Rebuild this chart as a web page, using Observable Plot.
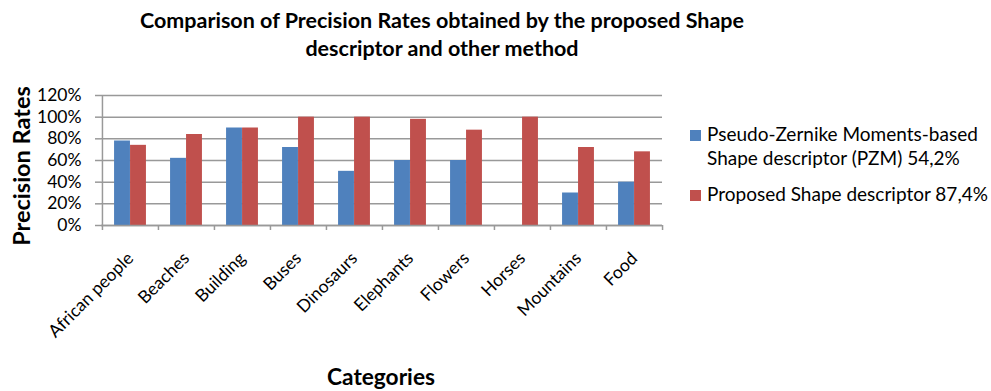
<!DOCTYPE html>
<html>
<head>
<meta charset="utf-8">
<script src="https://cdn.jsdelivr.net/npm/d3@7"></script>
<script src="https://cdn.jsdelivr.net/npm/@observablehq/plot@0.6"></script>
<style>
  html, body { margin: 0; padding: 0; background: #fff; }
  #wrap { position: relative; width: 991px; height: 391px; font-family: Lato, "Open Sans", sans-serif; color: #000; }
  #title { position: absolute; left: 100px; width: 684px; top: 5.5px; text-align: center; font-weight: 700; font-size: 21.5px; line-height: 28px; }
  #ylabel { position: absolute; left: 20.5px; top: 166px; transform: translate(-50%, -50%) rotate(-90deg); font-weight: 700; font-size: 23.5px; white-space: nowrap; }
  #xlabel { position: absolute; left: 381px; top: 375.5px; transform: translate(-50%, -50%); font-weight: 700; font-size: 22.7px; white-space: nowrap; }
  #legend { position: absolute; left: 690px; top: 121.5px; font-size: 19px; line-height: 24px; }
  .item { position: relative; padding-left: 17px; }
  .item + .item { margin-top: 12.5px; }
  .sw { position: absolute; left: 0; top: 8px; width: 11px; height: 11px; }
  #chart { position: absolute; left: 0; top: 0; }
  #chart svg text { font-size: 17.5px; fill: #000; }
</style>
</head>
<body>
<div id="wrap">
  <div id="chart"></div>
  <div id="title"></div>
  <div id="ylabel"></div>
  <div id="xlabel"></div>
  <div id="legend"></div>
</div>
<script>
// Image categories on the x axis
const categories = ["African people", "Beaches", "Building", "Buses", "Dinosaurs", "Elephants", "Flowers", "Horses", "Mountains", "Food"];
// Precision rate per category (%)
const pzmValues = [78, 62, 90, 72, 50, 60, 60, 0, 30, 40];
const proposedValues = [74, 84, 90, 100, 100, 98, 88, 100, 72, 68];
// Series names as shown in the legend
const seriesNames = ["Pseudo-Zernike Moments-based Shape descriptor (PZM) 54,2%", "Proposed Shape descriptor 87,4%"];
const seriesColors = ["#4F81BD", "#C0504D"];
// Y axis ticks (%)
const yTicks = [0, 20, 40, 60, 80, 100, 120];

const titleText = "Comparison of Precision Rates obtained by the proposed Shape descriptor and other method";
const yLabelText = "Precision Rates";
const xLabelText = "Categories";

const width = 991, height = 391;
const marginLeft = 101, marginRight = 329, marginTop = 95, marginBottom = 166;
const band = (width - marginLeft - marginRight) / categories.length;
const barW = band * 0.285;
const gap = (band - 2 * barW) / 2;
const gridColor = "#999";

const rows = categories.map((c, i) => ({category: c, pzm: pzmValues[i], proposed: proposedValues[i]}));

const chart = Plot.plot({
  width, height, marginLeft, marginRight, marginTop, marginBottom,
  style: {fontFamily: "Lato, 'Open Sans', sans-serif", color: "#000", background: "transparent"},
  x: {type: "band", domain: categories, padding: 0},
  y: {domain: [0, 120]},
  marks: [
    Plot.gridY(yTicks, {stroke: gridColor, strokeOpacity: 1, strokeWidth: 1.5}),
    Plot.barY(rows, {x: "category", y: "pzm", fill: seriesColors[0], insetLeft: gap, insetRight: gap + barW}),
    Plot.barY(rows, {x: "category", y: "proposed", fill: seriesColors[1], insetLeft: gap + barW, insetRight: gap}),
    Plot.ruleY([0], {stroke: gridColor, strokeWidth: 1.5}),
    // vertical axis line on the left edge of the first band
    Plot.ruleX([categories[0]], {y1: 120, y2: 0, insetBottom: -5, dx: -band / 2, stroke: gridColor, strokeWidth: 1.5}),
    // outward tick marks on the band edges
    Plot.ruleX(categories.slice(1), {y1: 0, y2: 0, insetBottom: -5, dx: -band / 2, stroke: gridColor, strokeWidth: 1.5}),
    Plot.ruleX(categories.slice(-1), {y1: 0, y2: 0, insetBottom: -5, dx: band / 2, stroke: gridColor, strokeWidth: 1.5}),
    Plot.axisY({ticks: yTicks, tickFormat: d => d + "%", tickSize: 6, tickPadding: 14, stroke: gridColor, strokeWidth: 1.5, label: null}),
    Plot.axisX({tickSize: 0, tickRotate: -45, tickPadding: 30, label: null})
  ]
});
document.getElementById("chart").append(chart);

document.getElementById("title").textContent = titleText;
document.getElementById("ylabel").textContent = yLabelText;
document.getElementById("xlabel").textContent = xLabelText;
const legend = document.getElementById("legend");
const legendLines = [["Pseudo-Zernike Moments-based", "Shape descriptor (PZM) 54,2%"], ["Proposed Shape descriptor 87,4%"]];
seriesNames.forEach((name, i) => {
  const item = document.createElement("div");
  item.className = "item";
  item.title = name;
  const sw = document.createElement("span");
  sw.className = "sw";
  sw.style.background = seriesColors[i];
  item.append(sw);
  legendLines[i].forEach((t, j) => {
    if (j) item.append(document.createElement("br"));
    item.append(document.createTextNode(t));
  });
  legend.append(item);
});
</script>
</body>
</html>
